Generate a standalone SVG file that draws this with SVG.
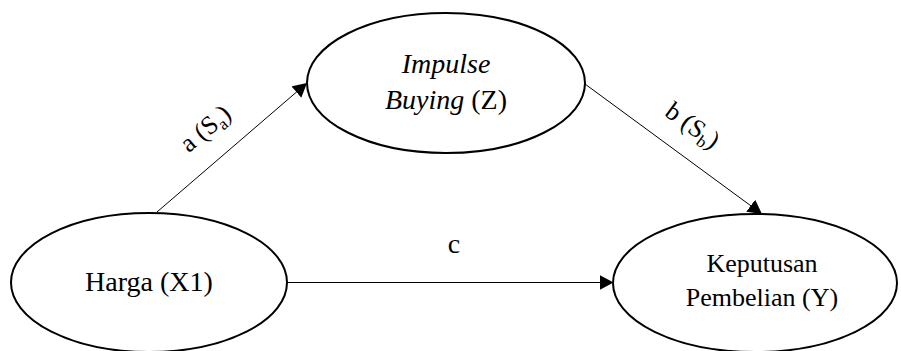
<svg xmlns="http://www.w3.org/2000/svg" width="901" height="351" viewBox="0 0 901 351">
<defs>
<marker id="ah" viewBox="0 0 14 15" refX="14" refY="7.5" markerWidth="14" markerHeight="15" markerUnits="userSpaceOnUse" orient="auto">
<path d="M0,0 L14,7.5 L0,15 Z" fill="#000"/>
</marker>
</defs>
<rect width="901" height="351" fill="#fff"/>
<g id="connectors" stroke="#000" stroke-width="1" fill="none">
<line x1="157" y1="212" x2="307" y2="83" marker-end="url(#ah)"/>
<line x1="585" y1="84" x2="762" y2="214" marker-end="url(#ah)"/>
<line x1="287" y1="282.5" x2="613.5" y2="282.5" marker-end="url(#ah)"/>
</g>
<g id="labels" font-family="Liberation Serif" fill="#000" text-anchor="middle">
<text font-size="26" transform="translate(205,128) rotate(-40)" y="9">a (S<tspan font-size="17" dy="5">a</tspan><tspan dy="-5">)</tspan></text>
<text font-size="26" transform="translate(693,125) rotate(36)" y="9">b (S<tspan font-size="17" dy="5">b</tspan><tspan dy="-5">)</tspan></text>
<text font-size="28" x="454" y="253">c</text>
</g>
<g id="node-z">
<ellipse cx="446" cy="83" rx="139" ry="70" fill="#fff" stroke="#000" stroke-width="2"/>
<text font-family="Liberation Serif" fill="#000" text-anchor="middle" font-size="28" x="446" y="73" font-style="italic">Impulse</text>
<text font-family="Liberation Serif" fill="#000" text-anchor="middle" font-size="28" x="446" y="109"><tspan font-style="italic">Buying</tspan> (Z)</text>
</g>
<g id="node-x1">
<ellipse cx="149" cy="282.5" rx="138" ry="69.5" fill="#fff" stroke="#000" stroke-width="2"/>
<text font-family="Liberation Serif" fill="#000" text-anchor="middle" font-size="28" x="149" y="291">Harga (X1)</text>
</g>
<g id="node-y">
<ellipse cx="755" cy="283" rx="142" ry="69" fill="#fff" stroke="#000" stroke-width="2"/>
<text font-family="Liberation Serif" fill="#000" text-anchor="middle" font-size="26" x="762" y="272">Keputusan</text>
<text font-family="Liberation Serif" fill="#000" text-anchor="middle" font-size="26" x="762" y="306">Pembelian (Y)</text>
</g>
</svg>
